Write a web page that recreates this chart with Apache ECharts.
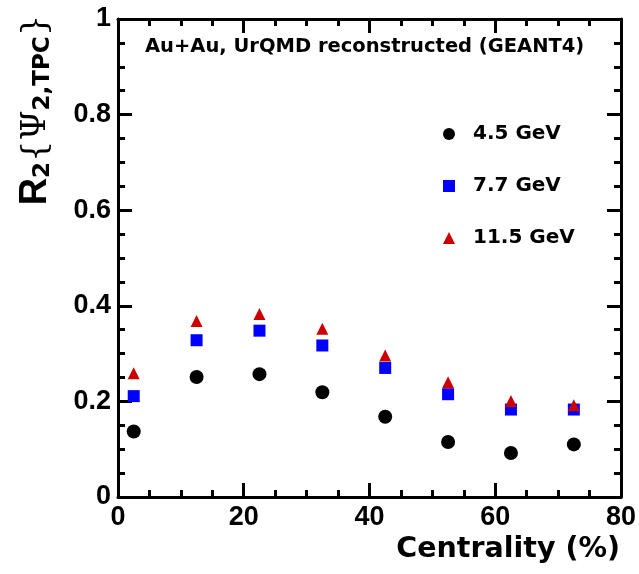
<!DOCTYPE html>
<html>
<head>
<meta charset="utf-8">
<script src="https://cdn.jsdelivr.net/npm/echarts@6/dist/echarts.min.js"></script>
<style>
html, body { margin: 0; padding: 0; background: #fff; }
#chart { width: 639px; height: 574px; }
</style>
</head>
<body>
<div id="chart"></div>
<script>
// Centrality bin centres (%)
const centrality = [2.5, 12.5, 22.5, 32.5, 42.5, 52.5, 62.5, 72.5];
// Event-plane resolution R2 per beam energy
const r2_45 = [0.137, 0.251, 0.257, 0.219, 0.168, 0.115, 0.092, 0.110];
const r2_77 = [0.211, 0.328, 0.348, 0.317, 0.270, 0.215, 0.183, 0.183];
const r2_115 = [0.259, 0.368, 0.383, 0.352, 0.296, 0.240, 0.201, 0.192];
const seriesNames = ['4.5 GeV', '7.7 GeV', '11.5 GeV'];
const titleText = 'Au+Au, UrQMD reconstructed (GEANT4)';
const xTitle = 'Centrality (%)';

const NUM_FONT = 'Liberation Sans, Arial, Helvetica, sans-serif';
const TXT_FONT = 'DejaVu Sans, Verdana, sans-serif';
const pairs = (ys) => centrality.map((x, i) => [x, ys[i]]);

const chart = echarts.init(document.getElementById('chart'), null, { renderer: 'canvas' });

const axisLine = { show: true, onZero: false, lineStyle: { color: '#000', width: 3 } };
const tickStyle = { color: '#000', width: 3 };
const xCommon = {
  type: 'value', min: 0, max: 80, interval: 20,
  axisLine: axisLine,
  axisTick: { show: true, inside: true, length: 14, lineStyle: tickStyle },
  minorTick: { show: true, splitNumber: 4, length: 7, lineStyle: tickStyle },
  splitLine: { show: false }, minorSplitLine: { show: false }
};
const yCommon = {
  type: 'value', min: 0, max: 1, interval: 0.2,
  axisLine: axisLine,
  axisTick: { show: true, inside: true, length: 14, lineStyle: tickStyle },
  minorTick: { show: true, splitNumber: 4, length: 7, lineStyle: tickStyle },
  splitLine: { show: false }, minorSplitLine: { show: false }
};
const labelStyle = { show: true, color: '#000', fontFamily: NUM_FONT, fontWeight: 'bold', fontSize: 27 };

chart.setOption({
  animation: false,
  backgroundColor: '#fff',
  grid: { left: 118, right: 17, top: 19, bottom: 77, containLabel: false },
  xAxis: [
    Object.assign({}, xCommon, { position: 'bottom', axisLabel: Object.assign({ margin: 7 }, labelStyle) }),
    Object.assign({}, xCommon, { position: 'top', axisLabel: { show: false } })
  ],
  yAxis: [
    Object.assign({}, yCommon, { position: 'left', axisLabel: Object.assign({ margin: 7 }, labelStyle) }),
    Object.assign({}, yCommon, { position: 'right', axisLabel: { show: false } })
  ],
  legend: {
    orient: 'vertical',
    left: 438, top: 119,
    itemGap: 32,
    itemWidth: 12, itemHeight: 12,
    textStyle: { color: '#000', fontFamily: TXT_FONT, fontWeight: 'bold', fontSize: 20, padding: [0, 0, 0, 13] },
    data: [
      { name: seriesNames[0], icon: 'circle', itemStyle: { color: '#000' } },
      { name: seriesNames[1], icon: 'rect', itemStyle: { color: '#0000ff' } },
      { name: seriesNames[2], icon: 'triangle', itemStyle: { color: '#cc0000' } }
    ]
  },
  series: [
    { name: seriesNames[0], type: 'scatter', symbol: 'circle', symbolSize: 14,
      itemStyle: { color: '#000', opacity: 1 }, data: pairs(r2_45) },
    { name: seriesNames[1], type: 'scatter', symbol: 'rect', symbolSize: 12,
      itemStyle: { color: '#0000ff', opacity: 1 }, data: pairs(r2_77) },
    { name: seriesNames[2], type: 'scatter', symbol: 'triangle', symbolSize: 12,
      itemStyle: { color: '#cc0000', opacity: 1 }, data: pairs(r2_115) }
  ],
  graphic: [
    { type: 'text', left: 145, top: 37,
      style: { text: titleText, fill: '#000', font: 'bold 19.5px ' + TXT_FONT } },
    { type: 'text', right: 19, top: 535,
      style: { text: xTitle, fill: '#000', font: 'bold 28.5px ' + TXT_FONT } },
    { type: 'text', x: 36, y: 110, rotation: Math.PI / 2,
      style: {
        text: '{r|R}{s|2}{Ψ{s|2,TPC}}',
        fill: '#000',
        font: '34px DejaVu Serif, serif',
        align: 'center', verticalAlign: 'middle',
        rich: {
          r: { font: 'bold 38px ' + NUM_FONT, fill: '#000' },
          s: { font: 'bold 23px ' + TXT_FONT, fill: '#000', verticalAlign: 'bottom', padding: [12, 0, 0, 0] }
        }
      } }
  ]
});
</script>
</body>
</html>
